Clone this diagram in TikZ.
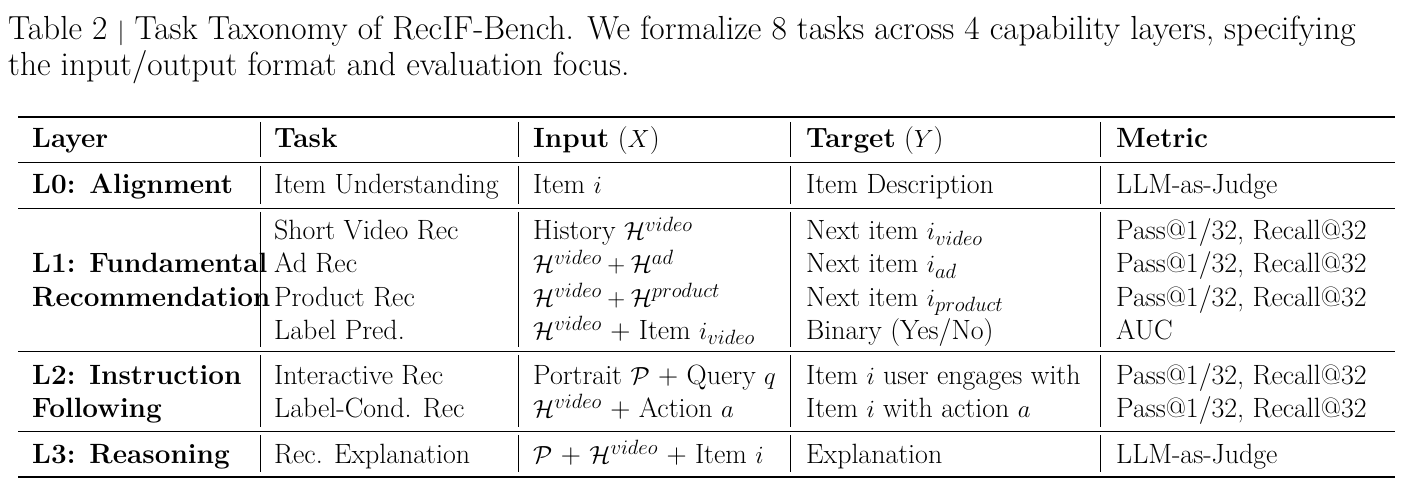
\documentclass[tikz,border=0pt]{standalone}
\begin{document}
\begin{tikzpicture}[x=1bp,y=-1bp,
  cell/.style={anchor=base west,inner sep=0pt,font=\fontsize{28}{32}\selectfont},
  captext/.style={anchor=base west,inner sep=0pt,font=\fontsize{33.5}{38}\selectfont},
  thickrule/.style={line width=1.6bp},
  thinrule/.style={line width=0.8bp}]
\useasboundingbox (0,0) rectangle (1411,489);
\node[captext] (c1) at (8,40) {Table 2 $|$ Task Taxonomy of RecIF-Bench. We formalize 8 tasks across 4 capability layers, specifying};
\node[captext] (c2) at (8,76) {the input/output format and evaluation focus.};
% rules
\draw[thickrule] (18,117) -- (1395,117);
\draw[thinrule] (18,162) -- (1395,162);
\draw[thinrule] (18,208) -- (1395,208);
\draw[thinrule] (18,351) -- (1395,351);
\draw[thinrule] (18,431) -- (1395,431);
\draw[thickrule] (18,477) -- (1395,477);
% vertical lines
\foreach \xx in {260,518,790,1100}{
  \foreach \ya/\yb in {122/157,166/204,212/347,355/427,435/472}{
    \draw[thinrule] (\xx,\ya) -- (\xx,\yb);}}
% header
\node[cell] (h1) at (32,148) {\textbf{Layer}};
\node[cell] (h2) at (274,148) {\textbf{Task}};
\node[cell] (h3) at (533,148) {\textbf{Input} ($X$)};
\node[cell] (h4) at (806,148) {\textbf{Target} ($Y$)};
\node[cell] (h5) at (1116,148) {\textbf{Metric}};
% L0
\node[cell] (a1) at (32,194) {\textbf{L0: Alignment}};
\node[cell] (a2) at (274,194) {Item Understanding};
\node[cell] (a3) at (533,194) {Item $i$};
\node[cell] (a4) at (806,194) {Item Description};
\node[cell] (a5) at (1116,194) {LLM-as-Judge};
% L1
\node[cell] (b1a) at (32,273) {\textbf{L1: Fundamental}};
\node[cell] (b1b) at (32,306) {\textbf{Recommendation}};
\node[cell] (b21) at (274,240) {Short Video Rec};
\node[cell] (b22) at (274,273) {Ad Rec};
\node[cell] (b23) at (274,306) {Product Rec};
\node[cell] (b24) at (274,339) {Label Pred.};
\node[cell] (b31) at (533,240) {History $\mathcal{H}^{video}$};
\node[cell] (b32) at (533,273) {$\mathcal{H}^{video}+\mathcal{H}^{ad}$};
\node[cell] (b33) at (533,306) {$\mathcal{H}^{video}+\mathcal{H}^{product}$};
\node[cell] (b34) at (533,339) {$\mathcal{H}^{video}$ + Item $i_{video}$};
\node[cell] (b41) at (806,240) {Next item $i_{video}$};
\node[cell] (b42) at (806,273) {Next item $i_{ad}$};
\node[cell] (b43) at (806,306) {Next item $i_{product}$};
\node[cell] (b44) at (806,339) {Binary (Yes/No)};
\node[cell] (b51) at (1116,240) {Pass@1/32, Recall@32};
\node[cell] (b52) at (1116,273) {Pass@1/32, Recall@32};
\node[cell] (b53) at (1116,306) {Pass@1/32, Recall@32};
\node[cell] (b54) at (1116,339) {AUC};
% L2
\node[cell] (d1a) at (32,384) {\textbf{L2: Instruction}};
\node[cell] (d1b) at (32,417) {\textbf{Following}};
\node[cell] (d21) at (274,384) {Interactive Rec};
\node[cell] (d22) at (274,417) {Label-Cond. Rec};
\node[cell] (d31) at (533,384) {Portrait $\mathcal{P}$ + Query $q$};
\node[cell] (d32) at (533,417) {$\mathcal{H}^{video}$ + Action $a$};
\node[cell] (d41) at (806,384) {Item $i$ user engages with};
\node[cell] (d42) at (806,417) {Item $i$ with action $a$};
\node[cell] (d51) at (1116,384) {Pass@1/32, Recall@32};
\node[cell] (d52) at (1116,417) {Pass@1/32, Recall@32};
% L3
\node[cell] (e1) at (32,463) {\textbf{L3: Reasoning}};
\node[cell] (e2) at (274,463) {Rec. Explanation};
\node[cell] (e3) at (533,463) {$\mathcal{P}$ + $\mathcal{H}^{video}$ + Item $i$};
\node[cell] (e4) at (806,463) {Explanation};
\node[cell] (e5) at (1116,463) {LLM-as-Judge};
\end{tikzpicture}
\end{document}
